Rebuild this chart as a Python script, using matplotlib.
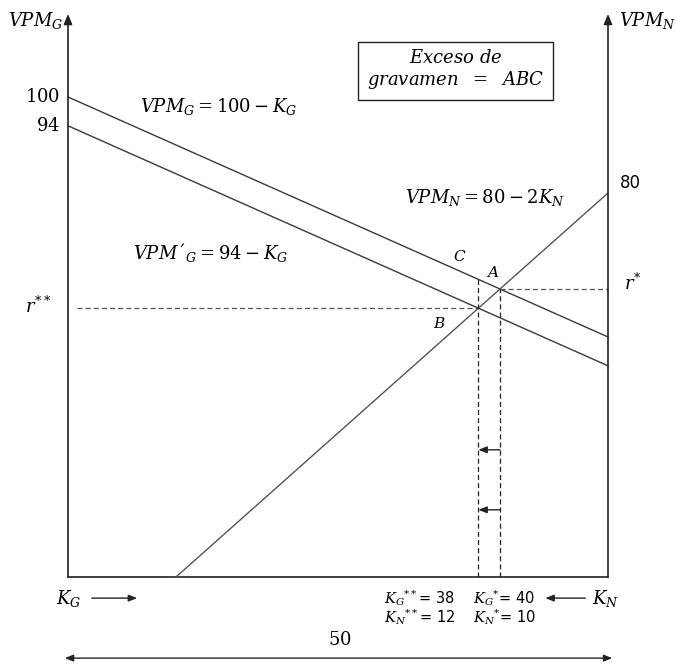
import matplotlib
matplotlib.use("Agg")
import matplotlib.pyplot as plt
import numpy as np

plt.rcParams['mathtext.fontset'] = 'dejavuserif'
plt.rcParams['font.family'] = ['DejaVu Sans']

# Model: total capital 50 split between sectors G and N (K_N = 50 - K_G)
K_TOTAL = 50
VPM_G_INTERCEPT = 100      # VPM_G  = 100 - K_G
VPM_G_TAX_INTERCEPT = 94   # VPM'_G = 94 - K_G
VPM_N_INTERCEPT = 80       # VPM_N  = 80 - 2 K_N
VPM_N_SLOPE = 2
KG_STAR = 40               # equilibrium without tax
KG_STAR2 = 38              # equilibrium with tax

def vpm_g(k):
    return VPM_G_INTERCEPT - k

def vpm_g_tax(k):
    return VPM_G_TAX_INTERCEPT - k

def vpm_n(k):
    return VPM_N_INTERCEPT - VPM_N_SLOPE * (K_TOTAL - k)

fig = plt.figure(figsize=(6.76, 6.68), dpi=100)
ax = fig.add_axes([0, 0, 1, 1])
ax.set_xlim(-68 / 10.8, K_TOTAL + 68 / 10.8)
ax.set_ylim(-91 / 4.8, 577 / 4.8)
ax.axis('off')

line_c = '#3a3a3a'
axis_c = '#222222'

# axes with arrowheads
ytop = 117.3
ax.annotate('', xy=(0, ytop), xytext=(0, 0),
            arrowprops=dict(arrowstyle='-|>,head_length=0.6,head_width=0.25', color=axis_c, lw=1.2, shrinkA=0, shrinkB=0))
ax.annotate('', xy=(K_TOTAL, ytop), xytext=(K_TOTAL, 0),
            arrowprops=dict(arrowstyle='-|>,head_length=0.6,head_width=0.25', color=axis_c, lw=1.2, shrinkA=0, shrinkB=0))
ax.plot([0, K_TOTAL], [0, 0], color=axis_c, lw=1.2)

# marginal value product curves
k = np.array([0, K_TOTAL])
ax.plot(k, vpm_g(k), color=line_c, lw=1.0)
ax.plot(k, vpm_g_tax(k), color=line_c, lw=1.0)
k0 = K_TOTAL - VPM_N_INTERCEPT / VPM_N_SLOPE
kn = np.array([k0, K_TOTAL])
ax.plot(kn, vpm_n(kn), color='#555555', lw=1.0)

# equilibrium guides
rA = vpm_g(KG_STAR)
rB = vpm_g_tax(KG_STAR2)
rC = vpm_g(KG_STAR2)
dash = dict(color=axis_c, lw=0.9, ls=(0, (4, 2.5)))
ax.plot([KG_STAR2, KG_STAR2], [0, rC], **dash)
ax.plot([KG_STAR, KG_STAR], [0, rA], **dash)
ax.plot([0.8, KG_STAR2], [rB, rB], color='#555555', lw=0.9, ls=(0, (4, 2.5)))
ax.plot([KG_STAR, K_TOTAL], [rA, rA], color='#555555', lw=0.9, ls=(0, (4, 2.5)))

# shift arrows
for yy in (26.5, 14.0):
    ax.annotate('', xy=(KG_STAR2, yy), xytext=(KG_STAR, yy),
                arrowprops=dict(arrowstyle='-|>,head_length=0.5,head_width=0.2', color=axis_c, lw=1.0, shrinkA=0, shrinkB=0))

fs = 13
ax.text(-3.0, 116.0, r'$VPM_G$', fontsize=fs, ha='center', va='center')
ax.text(53.7, 116.0, r'$VPM_N$', fontsize=fs, ha='center', va='center')
ax.text(-0.75, VPM_G_INTERCEPT, r'$100$', fontsize=fs, ha='right', va='center')
ax.text(-0.75, VPM_G_TAX_INTERCEPT, r'$94$', fontsize=fs, ha='right', va='center')
ax.text(51.1, 82.1, '80', fontsize=12, ha='left', va='center')
ax.text(6.7, 98.1, r'$VPM_G = 100 - K_G$', fontsize=fs, ha='left', va='center')
ax.text(31.2, 79.0, r'$VPM_N = 80 - 2K_N$', fontsize=fs, ha='left', va='center')
ax.text(6.0, 67.7, r'$VPM{´}_G = 94 - K_G$', fontsize=fs, ha='left', va='center')
ax.text(-2.8, 56.4, r'$r^{**}$', fontsize=fs, ha='center', va='center')
ax.text(52.3, 61.3, r'$r^{*}$', fontsize=fs, ha='center', va='center')
ax.text(36.3, 66.7, r'$C$', fontsize=11, ha='center', va='center')
ax.text(39.3, 63.5, r'$A$', fontsize=11, ha='center', va='center')
ax.text(34.4, 52.9, r'$B$', fontsize=11, ha='center', va='center')

# box
ax.text(35.9, 105.6, r'$Exceso\ de$' + '\n' + r'$gravamen\ \ =\ \ ABC$', fontsize=fs,
        ha='center', va='center', linespacing=1.15,
        bbox=dict(boxstyle='square,pad=0.5', fc='white', ec=axis_c, lw=1.0))

# bottom labels
ax.text(0.1, -4.4, r'$K_G$', fontsize=fs, ha='center', va='center')
ax.annotate('', xy=(6.4, -4.4), xytext=(2.2, -4.4),
            arrowprops=dict(arrowstyle='-|>,head_length=0.5,head_width=0.2', color=axis_c, lw=1.0, shrinkA=0, shrinkB=0))
bfs = 10.5
ax.text(29.3, -4.4, r'$K_G$' + r'$^{**}$' + '= 38', fontsize=bfs, ha='left', va='center')
ax.text(37.5, -4.4, r'$K_G$' + r'$^{*}$' + '= 40', fontsize=bfs, ha='left', va='center')
ax.text(29.3, -8.4, r'$K_N$' + r'$^{**}$' + '= 12', fontsize=bfs, ha='left', va='center')
ax.text(37.5, -8.4, r'$K_N$' + r'$^{*}$' + '= 10', fontsize=bfs, ha='left', va='center')
ax.annotate('', xy=(44.2, -4.4), xytext=(47.9, -4.4),
            arrowprops=dict(arrowstyle='-|>,head_length=0.5,head_width=0.2', color=axis_c, lw=1.0, shrinkA=0, shrinkB=0))
ax.text(49.8, -4.4, r'$K_N$', fontsize=fs, ha='center', va='center')

ax.text(25.2, -13.1, r'$50$', fontsize=fs, ha='center', va='center')
ax.annotate('', xy=(-0.3, -16.9), xytext=(50.4, -16.9),
            arrowprops=dict(arrowstyle='<|-|>,head_length=0.5,head_width=0.2', color=axis_c, lw=1.0, shrinkA=0, shrinkB=0))

fig.savefig('out.png', dpi=100, facecolor='white')
